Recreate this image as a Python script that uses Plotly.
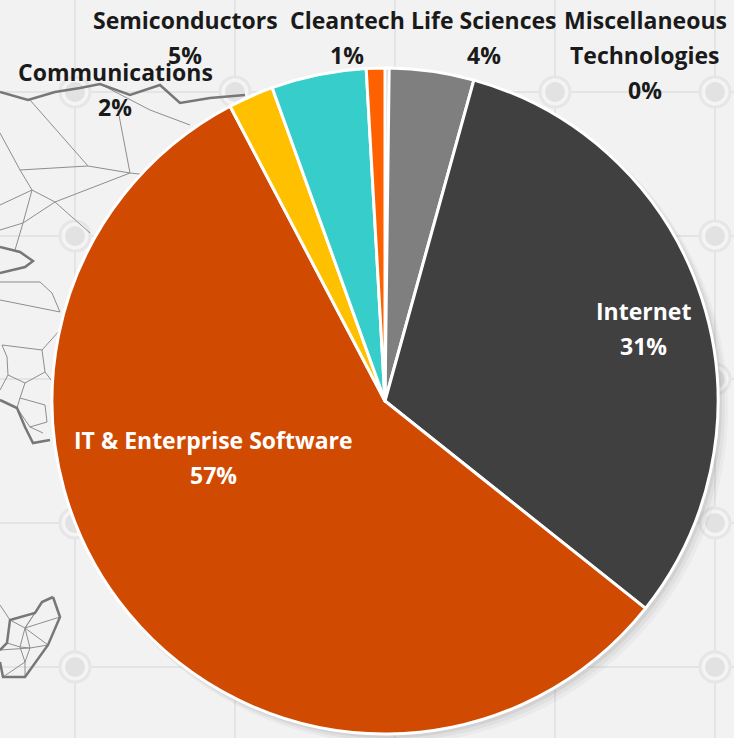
import plotly.graph_objects as go

W, H = 734, 738

# slice data, clockwise from 12 o'clock
sectors = ["Miscellaneous Technologies", "Life Sciences", "Internet", "IT & Enterprise Software",
           "Communications", "Semiconductors", "Cleantech"]
shares = [0.2, 4.1, 31.4, 56.6, 2.2, 4.6, 0.9]
colors = ["#A5A5A5", "#7F7F7F", "#404040", "#D04A02", "#FFC000", "#36CDCB", "#FF6000"]

# label lines (wrapping as in the reference)
label_lines = {
    "Miscellaneous Technologies": ["Miscellaneous", "Technologies"],
    "Life Sciences": ["Life Sciences"],
    "Internet": ["Internet"],
    "IT & Enterprise Software": ["IT & Enterprise Software"],
    "Communications": ["Communications"],
    "Semiconductors": ["Semiconductors"],
    "Cleantech": ["Cleantech"],
}
# where each label block starts (pixel x centre, y of first line)
label_pos = {
    "Miscellaneous Technologies": (645, 20),
    "Life Sciences": (484, 20),
    "Internet": (643, 311),
    "IT & Enterprise Software": (214, 440),
    "Communications": (115, 72),
    "Semiconductors": (185, 20),
    "Cleantech": (347, 20),
}
inside = {"Internet", "IT & Enterprise Software"}

# decorative network drawing in the background (pixel polylines)
net_thick = [
    [(0, 92), (28, 100), (55, 92), (80, 88), (100, 84), (130, 95), (160, 85), (180, 103), (210, 98), (245, 95)],
    [(0, 247), (20, 252), (33, 261), (25, 267), (0, 273)],
    [(0, 400), (17, 408), (25, 427), (33, 443), (50, 440)],
    [(53, 597), (42, 602), (35, 613), (10, 620), (7, 643), (0, 650)],
    [(53, 597), (60, 617), (48, 645), (25, 677), (3, 677), (0, 662)],
]
net_thin = [
    [(0, 133), (20, 170), (88, 166), (130, 173), (175, 178)],
    [(30, 100), (88, 166)],
    [(118, 110), (130, 173)],
    [(20, 170), (32, 190), (55, 202), (90, 233)],
    [(130, 173), (55, 202), (23, 223), (0, 230)],
    [(32, 190), (23, 223), (15, 250)],
    [(100, 84), (150, 110), (190, 125)],
    [(0, 205), (32, 190)],
    [(0, 282), (40, 282), (52, 293), (60, 312)],
    [(0, 300), (60, 312)],
    [(2, 345), (42, 350), (45, 372), (25, 383), (8, 375), (7, 357), (2, 345)],
    [(42, 350), (60, 330)],
    [(25, 383), (20, 398), (45, 405), (47, 422), (30, 427), (43, 433)],
    [(20, 398), (17, 408), (30, 427)],
    [(45, 372), (55, 385)],
    [(8, 375), (0, 390)],
    [(10, 620), (25, 628), (60, 617)],
    [(35, 613), (25, 628), (20, 647), (30, 648), (48, 645)],
    [(25, 628), (30, 648), (25, 662), (25, 677)],
    [(7, 643), (20, 647), (25, 662), (3, 677)],
    [(0, 650), (30, 648)],
    [(42, 602), (25, 628), (48, 645)],
    [(0, 605), (10, 620)],
]


def px(x):
    return x / W


def py(y):
    return 1 - y / H


def poly_path(pts):
    return "M " + " L ".join(f"{px(x):.5f},{py(y):.5f}" for x, y in pts)


fig = go.Figure()

fig.add_trace(go.Pie(
    labels=sectors,
    values=shares,
    sort=False,
    direction="clockwise",
    rotation=0,
    marker=dict(colors=colors, line=dict(color="white", width=3)),
    textinfo="none",
    hoverinfo="label+percent",
    showlegend=False,
    domain=dict(x=[px(52), px(718)], y=[py(734), py(68)]),
))

shapes = []
# background grid with little rings at the crossings
grid_x = [75, 235, 395, 555, 715]
grid_y = [92, 236, 379, 523, 667]
for gx in grid_x:
    shapes.append(dict(type="line", xref="paper", yref="paper", x0=px(gx), x1=px(gx), y0=0, y1=1,
                       line=dict(color="#E4E4E4", width=2), layer="below"))
for gy in grid_y:
    shapes.append(dict(type="line", xref="paper", yref="paper", x0=0, x1=1, y0=py(gy), y1=py(gy),
                       line=dict(color="#E4E4E4", width=2), layer="below"))
for gx in grid_x:
    for gy in grid_y:
        shapes.append(dict(type="circle", xref="paper", yref="paper",
                           x0=px(gx - 15), x1=px(gx + 15), y0=py(gy + 15), y1=py(gy - 15),
                           fillcolor="#F4F4F4", line=dict(color="#E6E6E6", width=3), layer="below"))
        shapes.append(dict(type="circle", xref="paper", yref="paper",
                           x0=px(gx - 10), x1=px(gx + 10), y0=py(gy + 10), y1=py(gy - 10),
                           fillcolor="#E2E2E2", line=dict(width=0), layer="below"))

for pts in net_thin:
    shapes.append(dict(type="path", xref="paper", yref="paper", path=poly_path(pts),
                       line=dict(color="#8E8E8E", width=1), layer="below"))
for pts in net_thick:
    shapes.append(dict(type="path", xref="paper", yref="paper", path=poly_path(pts),
                       line=dict(color="#777777", width=2.5), layer="below"))

# soft drop shadow behind the pie
cx, cy, r = 385, 401, 333
for off, a in [(10, 0.03), (7, 0.04), (4, 0.06)]:
    shapes.append(dict(type="circle", xref="paper", yref="paper",
                       x0=px(cx - r + off / 2), x1=px(cx + r + off),
                       y0=py(cy + r + off), y1=py(cy - r + off / 2),
                       fillcolor=f"rgba(0,0,0,{a})", line=dict(width=0), layer="below"))

total = sum(shares)
annotations = []
line_gap = 35
for name, val in zip(sectors, shares):
    x0, y0 = label_pos[name]
    lines = label_lines[name] + [f"{round(val / total * 100)}%"]
    col = "white" if name in inside else "#1A1A1A"
    for i, t in enumerate(lines):
        annotations.append(dict(
            x=px(x0), y=py(y0 + i * line_gap), xref="paper", yref="paper",
            text=t, showarrow=False, xanchor="center", yanchor="middle",
            font=dict(family="Open Sans", size=23, color=col, weight="bold"),
        ))

fig.update_layout(
    width=W,
    height=H,
    margin=dict(l=0, r=0, t=0, b=0),
    paper_bgcolor="#F2F2F2",
    plot_bgcolor="#F2F2F2",
    shapes=shapes,
    annotations=annotations,
)

fig.write_html("out.html", config={"displayModeBar": False},
               post_script="document.body.style.margin='0';")
